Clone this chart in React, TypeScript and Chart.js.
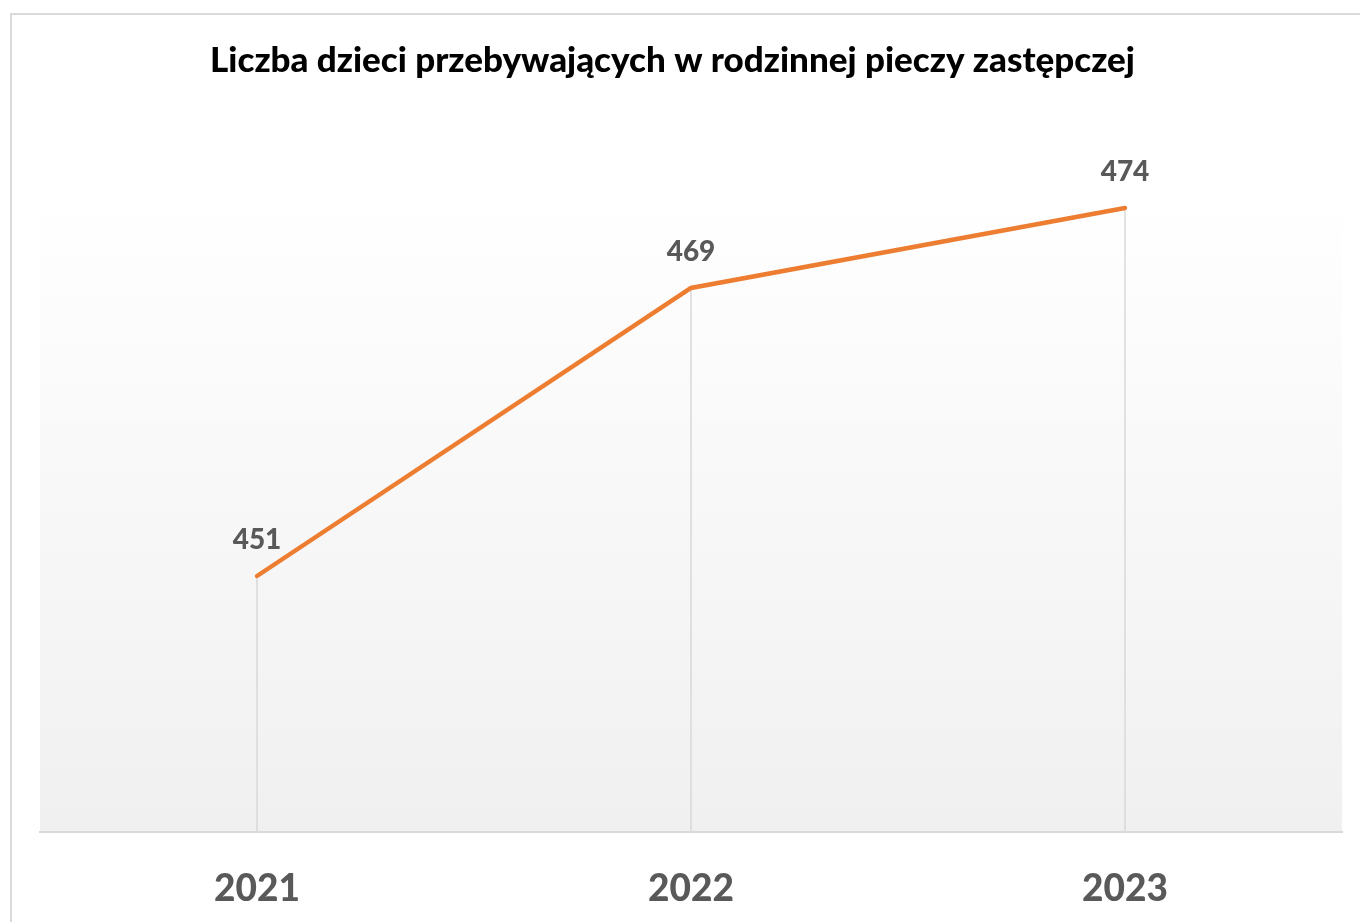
import React, { useEffect, useRef } from "react";
import { Chart, registerables } from "chart.js";

Chart.register(...registerables);

const TITLE = "Liczba dzieci przebywających w rodzinnej pieczy zastępczej";
const YEARS = ["2021", "2022", "2023"];
const CHILDREN = [451, 469, 474];
const Y_MIN = 435;
const Y_MAX = 475;

const FONT = "Lato, 'Open Sans', sans-serif";

const decorPlugin = {
  id: "decor",
  beforeDraw(chart: any) {
    const { ctx, chartArea } = chart;
    ctx.save();
    ctx.fillStyle = "#ffffff";
    ctx.fillRect(0, 0, chart.width, chart.height);
    // outer frame
    ctx.strokeStyle = "#d9d9d9";
    ctx.lineWidth = 2;
    ctx.strokeRect(11, 14, chart.width + 50, chart.height + 50);
    // plot area gradient
    const g = ctx.createLinearGradient(0, chartArea.top, 0, chartArea.bottom);
    g.addColorStop(0, "#ffffff");
    g.addColorStop(1, "#f0f0f0");
    ctx.fillStyle = g;
    ctx.fillRect(chartArea.left, chartArea.top, chartArea.right - chartArea.left, chartArea.bottom - chartArea.top);
    // title
    ctx.fillStyle = "#000000";
    ctx.font = `900 35px ${FONT}`;
    ctx.textAlign = "center";
    ctx.textBaseline = "alphabetic";
    ctx.fillText(TITLE, 672.5, 72);
    ctx.restore();
  },
  beforeDatasetsDraw(chart: any) {
    const { ctx, chartArea } = chart;
    const meta = chart.getDatasetMeta(0);
    ctx.save();
    ctx.strokeStyle = "#d9d9d9";
    ctx.lineWidth = 1.5;
    meta.data.forEach((pt: any) => {
      ctx.beginPath();
      ctx.moveTo(pt.x, pt.y);
      ctx.lineTo(pt.x, chartArea.bottom);
      ctx.stroke();
    });
    ctx.restore();
  },
  afterDatasetsDraw(chart: any) {
    const { ctx } = chart;
    const meta = chart.getDatasetMeta(0);
    const data = chart.data.datasets[0].data;
    ctx.save();
    ctx.fillStyle = "#595959";
    ctx.font = `900 28px ${FONT}`;
    ctx.textAlign = "center";
    ctx.textBaseline = "alphabetic";
    meta.data.forEach((pt: any, i: number) => {
      ctx.fillText(String(data[i]), pt.x, pt.y - 27);
    });
    ctx.restore();
  },
};

export default function App() {
  const ref = useRef<HTMLCanvasElement | null>(null);
  useEffect(() => {
    if (!ref.current) return;
    const chart = new Chart(ref.current, {
      type: "line",
      data: {
        labels: YEARS,
        datasets: [
          {
            label: TITLE,
            data: CHILDREN,
            borderColor: "#ED7D31",
            backgroundColor: "#ED7D31",
            borderWidth: 4.5,
            borderCapStyle: "round",
            pointRadius: 0,
            tension: 0,
          },
        ],
      },
      options: {
        responsive: false,
        animation: false,
        layout: { padding: { left: 40, right: 18, top: 192, bottom: 0 } },
        plugins: {
          legend: { display: false },
          title: { display: false },
          tooltip: { enabled: false },
        },
        scales: {
          x: {
            offset: true,
            grid: { display: false, drawTicks: false },
            border: { display: true, color: "#d9d9d9", width: 2 },
            ticks: {
              color: "#595959",
              font: { family: FONT, size: 37, weight: "900" },
              padding: 35,
              maxRotation: 0,
            },
            afterFit: (s: any) => {
              s.height = 90;
            },
          },
          y: {
            display: false,
            min: Y_MIN,
            max: Y_MAX,
          },
        },
      },
      plugins: [decorPlugin],
    });
    return () => chart.destroy();
  }, []);
  return (
    <div style={{ position: "absolute", left: 0, top: 0, width: 1360, height: 922 }}>
      <canvas ref={ref} width={1360} height={922} style={{ display: "block" }} />
    </div>
  );
}
